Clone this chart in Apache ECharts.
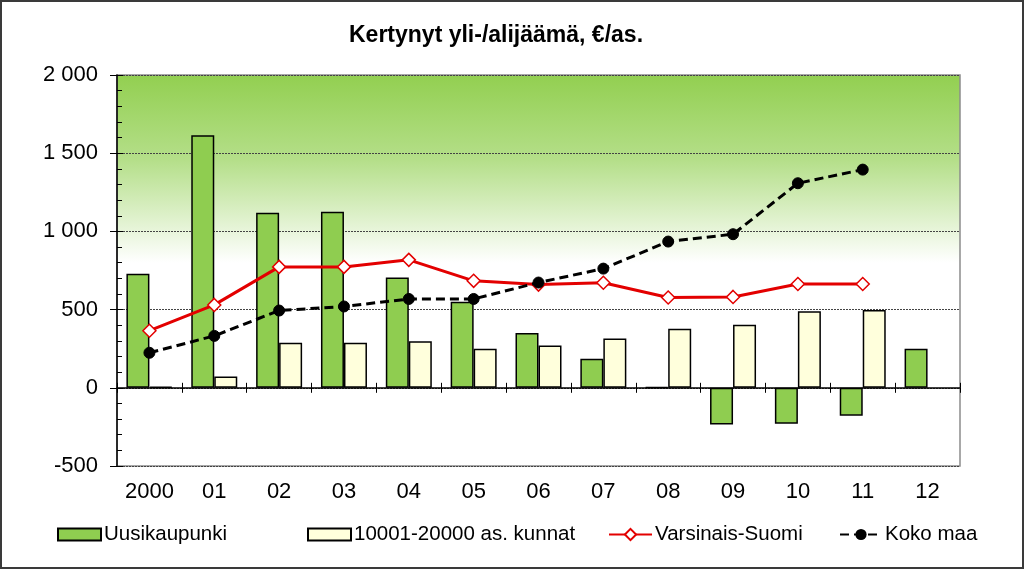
<!DOCTYPE html>
<html>
<head>
<meta charset="utf-8">
<script src="https://cdn.jsdelivr.net/npm/echarts@6/dist/echarts.min.js"></script>
<style>
html,body{margin:0;padding:0;background:#fff;}
#chart{width:1024px;height:569px;}
</style>
</head>
<body>
<div id="chart"></div>
<script>
const categories = ['2000','01','02','03','04','05','06','07','08','09','10','11','12'];
const uusikaupunki = [730, 1615, 1120, 1125, 705, 550, 350, 185, 5, -235, -230, -178, 250];
const kunnat = [8, 72, 288, 288, 298, 250, 270, 315, 378, 403, 490, 497, null];
const varsinaisSuomi = [365, 530, 773, 773, 818, 684, 660, 672, 577, 581, 664, 664, null];
const kokoMaa = [224, 332, 494, 520, 568, 568, 673, 762, 935, 982, 1308, 1395, null];
const yTicks = {min: -500, max: 2000, interval: 500};

const FONT = 'Liberation Sans, Arial, sans-serif';
const chart = echarts.init(document.getElementById('chart'));

function fmt(v){ return String(v).replace(/\B(?=(\d{3})+(?!\d))/g, ' '); }

const legendCommon = {
  top: 524,
  padding: 0,
  itemGap: 0,
  textStyle: {fontFamily: FONT, fontSize: 20.5, color: '#000', padding: [0,0,0,-2]},
  itemHeight: 12
};

chart.setOption({
  animation: false,
  backgroundColor: '#fff',
  title: {
    text: 'Kertynyt yli-/alijäämä, €/as.',
    left: 491, top: 19, textAlign: 'center',
    textStyle: {fontFamily: FONT, fontSize: 23, fontWeight: 'bold', color: '#000'}
  },
  graphic: [{
    type: 'rect', silent: true, z: 100,
    shape: {x: 1, y: 1, width: 1022, height: 567},
    style: {fill: 'none', stroke: '#3a3a3a', lineWidth: 2}
  }],
  legend: [
    Object.assign({}, legendCommon, {left: 57, data: [{name: 'Uusikaupunki', icon: 'rect'}], itemWidth: 43}),
    Object.assign({}, legendCommon, {left: 307, data: [{name: '10001-20000 as. kunnat', icon: 'rect'}], itemWidth: 43}),
    Object.assign({}, legendCommon, {left: 608, data: ['Varsinais-Suomi'], itemWidth: 43, itemHeight: 14}),
    Object.assign({}, legendCommon, {left: 839, data: ['Koko maa'], itemWidth: 42, itemHeight: 14})
  ],
  grid: {
    left: 117, right: 64, top: 75, bottom: 103,
    show: true, borderColor: '#8c8c8c', borderWidth: 1.5,
    backgroundColor: new echarts.graphic.LinearGradient(0, 0, 0, 1, [
      {offset: 0, color: '#92cf50'},
      {offset: 0.22, color: '#b5df8a'},
      {offset: 0.48, color: '#ffffff'},
      {offset: 1, color: '#ffffff'}
    ])
  },
  xAxis: [{
    type: 'category', data: categories, position: 'bottom',
    axisLine: {show: false, onZero: false},
    axisTick: {show: false},
    axisLabel: {fontFamily: FONT, fontSize: 22, color: '#000', margin: 15},
    splitLine: {show: false}
  }, {
    type: 'category', data: categories, position: 'top',
    axisLine: {show: true, onZero: true, lineStyle: {color: '#000', width: 1.5}},
    axisTick: {show: true, length: 5, lineStyle: {color: '#000'}},
    axisLabel: {show: false},
    splitLine: {show: false}
  }, {
    type: 'category', data: categories, position: 'bottom',
    axisLine: {show: false, onZero: true},
    axisTick: {show: true, length: 5, lineStyle: {color: '#000'}},
    axisLabel: {show: false},
    splitLine: {show: false}
  }],
  yAxis: [{
    type: 'value', min: yTicks.min, max: yTicks.max, interval: yTicks.interval,
    axisLine: {show: true, lineStyle: {color: '#000', width: 1.5}},
    axisTick: {show: true, length: 7, lineStyle: {color: '#000'}},
    axisLabel: {fontFamily: FONT, fontSize: 22, color: '#000', margin: 19, formatter: fmt},
    splitLine: {show: true, lineStyle: {color: '#444', type: [2, 1], width: 1}}
  }, {
    type: 'value', min: yTicks.min, max: yTicks.max, interval: yTicks.interval,
    position: 'left', offset: 0,
    axisLine: {show: false},
    axisTick: {show: true, inside: true, length: 6, lineStyle: {color: '#000'}},
    minorTick: {show: true, splitNumber: 5, length: 5, lineStyle: {color: '#000'}},
    axisLabel: {show: false},
    splitLine: {show: false}
  }],
  series: [{
    name: 'Uusikaupunki', type: 'bar', data: uusikaupunki,
    barWidth: 23, barGap: '0%',
    itemStyle: {color: '#8fcd50', borderColor: '#000', borderWidth: 1.5}
  }, {
    name: '10001-20000 as. kunnat', type: 'bar', data: kunnat,
    barWidth: 23, barGap: '0%',
    itemStyle: {color: '#ffffdc', borderColor: '#000', borderWidth: 1.5}
  }, {
    name: 'Varsinais-Suomi', type: 'line', data: varsinaisSuomi,
    symbol: 'diamond', symbolSize: 13,
    lineStyle: {color: '#e30000', width: 3},
    itemStyle: {color: '#fff', borderColor: '#e30000', borderWidth: 1.5},
    z: 5
  }, {
    name: 'Koko maa', type: 'line', data: kokoMaa,
    symbol: 'circle', symbolSize: 11,
    lineStyle: {color: '#000', width: 3, type: [9, 5]},
    itemStyle: {color: '#000', borderColor: '#000'},
    z: 6
  }]
});
</script>
</body>
</html>
